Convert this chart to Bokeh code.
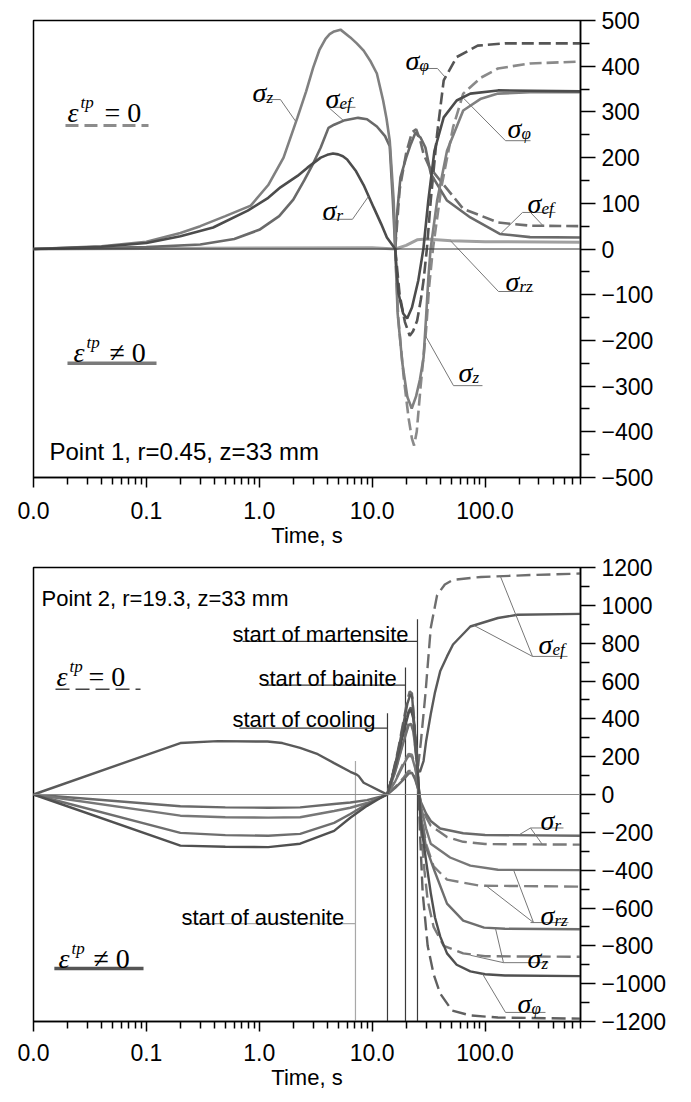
import math
from bokeh.plotting import figure
from bokeh.layouts import column
from bokeh.models import FixedTicker, Label, Span, Range1d, PrintfTickFormatter
from bokeh.embed import file_html
from bokeh.resources import INLINE

# ---------------- Point 1 (r=0.45, z=33 mm) ----------------
# solid: transformation plasticity on, dashed: transformation plasticity off
p1_sz_t = [0.01, 0.04, 0.1, 0.2, 0.3, 0.5, 0.84, 1.2, 1.64, 2.18, 2.6, 3.0, 3.4, 3.86, 4.2, 4.6, 5.24, 6.4, 7.3, 8.4,
           9.6, 11, 12.5, 13.4, 14.3, 15.5, 16, 16.8, 18.5, 20.5, 22.4, 24.5, 26.5, 28.5, 30, 31.5, 32.9, 37.6, 46,
           64, 92, 130, 250, 700]
p1_sz = [0, 6, 16, 35, 50, 72, 95, 140, 200, 288, 345, 397, 435, 460, 470, 476, 480, 463, 450, 434,
         412, 384, 325, 285, 237, 106, 0, -141, -250, -324, -349, -322, -285, -238, -150, -60, 0, 106, 215,
         303, 329, 340, 343, 343]

p1_sz_tp0_t = [16, 17, 19, 21, 22.5, 23.5, 24.8, 26.8, 30, 32, 34.5, 41, 52, 64, 92, 130, 250, 700]
p1_sz_tp0 = [0, -150, -280, -370, -415, -430, -400, -303, -178, -80, 0, 135, 266, 340, 375, 395, 406, 410]

# radial and hoop stresses coincide near the axis
p1_sphi_t = [0.01, 0.04, 0.1, 0.2, 0.39, 0.79, 1.2, 1.54, 2.18, 2.67, 3.5, 4.0, 4.5, 5.0, 5.5, 6.0, 7.2, 8.4, 10.3,
             12, 13.5, 16, 16.5, 17.1, 18.8, 20.4, 22.5, 25.6, 28.4, 31.4, 35.6, 43, 56, 74, 130, 700]
p1_sphi = [0, 5, 13, 28, 47, 84, 112, 135, 160, 178, 200, 206, 209, 207, 203, 196, 170, 140, 91,
           55, 25, 0, -50, -97, -141, -152, -128, -69, 0, 106, 215, 288, 325, 340, 347, 345]

p1_sphi_tp0_t = [16, 17.5, 19.5, 21.5, 23, 25, 27, 28.5, 30.5, 33, 37.6, 43, 56, 86, 150, 700]
p1_sphi_tp0 = [0, -100, -160, -190, -180, -157, -110, -69, 0, 106, 252, 369, 420, 445, 450, 450]

p1_sef_t = [0.01, 0.1, 0.3, 0.6, 1.0, 1.5, 2.0, 2.5, 3.0, 3.5, 4.1, 4.6, 5.6, 7.5, 9.0, 11, 13, 14.3, 15.2, 16,
            16.5, 17.8, 20, 22, 24.2, 25.5, 26.8, 29.6, 33, 46, 74, 135, 250, 700]
p1_sef = [0, 4, 10, 22, 42, 72, 108, 150, 187, 222, 265, 272, 281, 287, 284, 268, 247, 225, 110, 0,
          70, 157, 200, 230, 255, 248, 244, 222, 165, 106, 69, 33, 26, 25]

p1_sef_tp0_t = [16, 17.5, 20, 22.5, 24.5, 26.5, 28.5, 32, 40, 64, 130, 250, 700]
p1_sef_tp0 = [0, 130, 210, 255, 262, 240, 208, 180, 150, 88, 58, 51, 50]

p1_srz_t = [0.01, 1, 10, 16, 20, 25, 30, 50, 100, 700]
p1_srz = [0, 2, 3, 0, 8, 20, 22, 18, 16, 15]

# ---------------- Point 2 (r=19.3, z=33 mm) ----------------
p2_sef_t = [0.01, 0.2, 0.43, 1.18, 1.6, 2.3, 3.3, 4.6, 6.4, 7.3, 7.6, 8.4, 9.6, 11.8, 13.6, 15, 17, 19, 20.5, 21.8,
            22.6, 23.5, 24.5, 25.5, 26.5, 28.5, 30, 33, 36, 40, 46, 52, 74, 130, 194, 700]
p2_sef = [0, 272, 282, 280, 272, 246, 213, 166, 120, 105, 97, 62, 45, 18, 0, 90, 230, 380, 480, 530,
          515, 380, 220, 130, 120, 177, 280, 424, 540, 651, 730, 793, 888, 933, 950, 955]
p2_sef_tp0_t = [13.6, 15, 17, 19, 20.5, 21.5, 22.5, 23.5, 24.5, 25.5, 27, 29.6, 33, 37.6, 44, 52, 92, 250, 700]
p2_sef_tp0 = [0, 95, 240, 395, 500, 545, 535, 400, 240, 150, 280, 530, 880, 1055, 1110, 1135, 1150, 1160, 1168]

p2_sr_t = [0.01, 0.2, 0.5, 1.2, 2.3, 4.6, 6.4, 9, 11.8, 13.6, 16, 19, 21, 22.5, 24, 25.5, 27, 30, 33, 40, 64, 100, 700]
p2_sr = [0, -62, -68, -70, -68, -50, -42, -30, -12, 0, 35, 80, 110, 115, 80, 30, -40, -100, -140, -180, -205, -214, -218]
p2_sr_tp0_t = [13.6, 16, 19, 21, 22.5, 24, 25.5, 27, 30, 33, 46, 64, 100, 700]
p2_sr_tp0 = [0, 40, 90, 125, 125, 90, 30, -50, -120, -165, -225, -250, -262, -265]

p2_srz_t = [0.01, 0.2, 0.5, 1.2, 2.3, 4.6, 6.4, 9, 11.8, 13.6, 16, 19, 21, 22.5, 24, 25.5, 27, 30, 33, 49, 74, 130, 700]
p2_srz = [0, -112, -120, -122, -120, -87, -70, -45, -18, 0, 70, 160, 205, 200, 140, 60, -60, -180, -260, -333, -376, -398, -400]
p2_srz_tp0_t = [13.6, 16, 19, 21, 22.5, 24, 25.5, 27, 30, 35, 46, 90, 700]
p2_srz_tp0 = [0, 75, 170, 215, 210, 150, 60, -90, -260, -380, -450, -482, -487]

p2_sz_t = [0.01, 0.2, 0.5, 1.2, 2.3, 4.6, 6.4, 9, 11.8, 13.6, 16, 19, 21, 22, 23.2, 24.5, 25.5, 27, 30, 35.6, 46, 64, 98, 150, 700]
p2_sz = [0, -203, -215, -218, -208, -150, -103, -50, -15, 0, 120, 280, 365, 375, 330, 200, 80, -110, -280, -403, -577, -667, -704, -710, -712]
p2_sz_tp0_t = [13.6, 16, 19, 21, 22, 23.2, 24.5, 25.5, 27, 29, 31, 35, 43, 64, 100, 700]
p2_sz_tp0 = [0, 125, 290, 375, 385, 340, 210, 80, -180, -400, -560, -700, -800, -840, -855, -858]

p2_sphi_t = [0.01, 0.2, 0.5, 1.2, 2.3, 4.6, 6.4, 9, 11.8, 13.6, 16, 19, 21, 22, 23.2, 24.5, 25.5, 27, 30, 33, 36, 40, 46, 56, 74, 100, 150, 700]
p2_sphi = [0, -270, -276, -278, -260, -192, -123, -60, -18, 0, 150, 330, 430, 450, 400, 250, 100, -150, -350, -520, -650, -750, -840, -900, -935, -950, -957, -960]
p2_sphi_tp0_t = [13.6, 16, 19, 21, 22, 23.2, 24.5, 25.5, 26.5, 28, 31, 35, 40, 51, 74, 130, 700]
p2_sphi_tp0 = [0, 155, 340, 440, 460, 410, 260, 100, -200, -520, -800, -950, -1052, -1142, -1168, -1179, -1185]

# phase-event times (s) for Point 2
events = ["start of austenite", "start of cooling", "start of bainite", "start of martensite"]
event_t = [7.11, 13.66, 19.72, 25.19]

x_major = [0.01, 0.1, 1, 10, 100]
x_minor = [m * d for d in (0.01, 0.1, 1, 10) for m in range(2, 10)] + [200, 300, 400, 500, 600, 700]

SANS = "Liberation Sans"
SERIF = "Liberation Serif"
LEAD = "#777777"


def make_fig(height, top, bottom, yr, ystep, frame_h, x_standoff):
    p = figure(width=691, height=height, x_axis_type="log", y_axis_location="right",
               x_range=Range1d(0.01, 700), y_range=Range1d(*yr),
               output_backend="svg", toolbar_location=None,
               min_border_left=33, min_border_right=111, min_border_top=top, min_border_bottom=bottom)
    p.grid.visible = False
    p.background_fill_color = "white"
    p.border_fill_color = "white"
    p.outline_line_color = "black"
    p.outline_line_width = 1.5

    xa = p.xaxis[0]
    xa.ticker = FixedTicker(ticks=x_major, minor_ticks=x_minor)
    xa.formatter = PrintfTickFormatter(format="%.1f")
    xa.major_tick_in = 0
    xa.minor_tick_in = 0
    xa.major_tick_out = 10
    xa.minor_tick_out = 7
    xa.major_tick_line_width = 1.5
    xa.minor_tick_line_width = 1.5
    xa.axis_line_width = 1.5
    xa.major_label_text_font = SANS
    xa.major_label_text_font_size = "23px"
    xa.major_label_text_color = "black"
    xa.major_label_standoff = x_standoff
    xa.axis_label = "Time, s"
    xa.axis_label_text_font = SANS
    xa.axis_label_text_font_size = "22px"
    xa.axis_label_text_font_style = "normal"
    xa.axis_label_text_color = "black"
    xa.axis_label_standoff = 1

    ya = p.yaxis[0]
    ya.ticker = FixedTicker(ticks=list(range(yr[0], yr[1] + 1, ystep)),
                            minor_ticks=list(range(yr[0] + ystep // 2, yr[1], ystep)))
    ya.major_tick_in = 0
    ya.minor_tick_in = 0
    ya.major_tick_out = 15
    ya.minor_tick_out = 9
    ya.major_tick_line_width = 1.5
    ya.minor_tick_line_width = 1.5
    ya.axis_line_width = 1.5
    ya.major_label_text_font = SANS
    ya.major_label_text_font_size = "23px"
    ya.major_label_text_color = "black"
    ya.major_label_standoff = 6

    p.add_layout(Label(x=642, y=frame_h / 2, x_units="screen", y_units="screen", text="Stress, MPa",
                       angle=math.pi / 2, text_align="center", text_baseline="middle",
                       text_font=SANS, text_font_size="24px", text_color="black"))
    return p


def sigma(p, t, s, sub, size=28, sub_size=17, dx=14, dy=-5):
    p.add_layout(Label(x=t, y=s, text="σ", text_font=SERIF, text_font_style="italic",
                       text_font_size=f"{size}px", text_color="black", text_baseline="alphabetic"))
    p.add_layout(Label(x=t, y=s, x_offset=dx, y_offset=dy, text=sub, text_font=SERIF,
                       text_font_style="italic", text_font_size=f"{sub_size}px", text_color="black",
                       text_baseline="alphabetic"))


def eps(p, t, s, rel, dx_rel):
    p.add_layout(Label(x=t, y=s, text="ε", text_font=SERIF, text_font_style="italic",
                       text_font_size="28px", text_color="black", text_baseline="alphabetic"))
    p.add_layout(Label(x=t, y=s, x_offset=13, y_offset=10, text="tp", text_font=SERIF,
                       text_font_style="italic", text_font_size="17px", text_color="black",
                       text_baseline="alphabetic"))
    p.add_layout(Label(x=t, y=s, x_offset=dx_rel, text=rel, text_font=SERIF,
                       text_font_size="28px", text_color="black", text_baseline="alphabetic"))


def lead(p, ts, ss, color=LEAD, width=1.0):
    p.line(ts, ss, line_color=color, line_width=width)


# ================= top panel =================
p1 = make_fig(555, 20, 78, (-500, 500), 100, 457, 14)
p1.add_layout(Span(location=0, dimension="width", line_color="#333333", line_width=1))

W = 2.6
p1.line(p1_srz_t, p1_srz, line_color="#a0a0a0", line_width=3)
p1.line(p1_sef_tp0_t, p1_sef_tp0, line_color="#6e6e6e", line_width=W, line_dash="12 5")
p1.line(p1_sz_tp0_t, p1_sz_tp0, line_color="#8a8a8a", line_width=W, line_dash="12 5")
p1.line(p1_sphi_tp0_t, p1_sphi_tp0, line_color="#555555", line_width=W, line_dash="12 5")
p1.line(p1_sef_t, p1_sef, line_color="#6a6a6a", line_width=W)
p1.line(p1_sz_t, p1_sz, line_color="#808080", line_width=W)
p1.line(p1_sphi_t, p1_sphi, line_color="#4c4c4c", line_width=W)

# legend keys
eps(p1, 0.0200, 298, "= 0", 37)
p1.line([0.0192, 0.1044], [270, 270], line_color="#8c8c8c", line_width=3, line_dash="13 6")
eps(p1, 0.0226, -226, "≠ 0", 36)
p1.line([0.0200, 0.1229], [-250, -250], line_color="#7a7a7a", line_width=3.5)

p1.add_layout(Label(x=0.01386, y=-443, text="Point 1, r=0.45, z=33 mm", text_font=SANS,
                    text_font_size="24px", text_color="black", text_baseline="alphabetic"))

# curve labels with leaders
sigma(p1, 0.87, 342, "z")
lead(p1, [0.888, 1.54, 2.09], [327, 327, 280])
sigma(p1, 3.86, 329, "ef")
lead(p1, [7.11, 4.10, 5.57], [310, 310, 281])
sigma(p1, 3.63, 84, "r")
lead(p1, [3.63, 6.69, 9.27], [65, 65, 115])
sigma(p1, 19.7, 412, "φ")
lead(p1, [20.55, 37.87, 44.6], [395, 395, 375])
sigma(p1, 157.9, 264, "φ")
lead(p1, [252.5, 151.6, 64.4], [237, 237, 330])
sigma(p1, 237.5, 100, "ef")
lead(p1, [420, 214.5, 136.9], [80, 80, 33])
lead(p1, [252.5, 329], [80, 50])
sigma(p1, 151.6, -71, "rz")
lead(p1, [268.5, 131.4, 49.4], [-93, -93, 18])
sigma(p1, 58.1, -270, "z")
lead(p1, [94.8, 52.5, 29.66], [-299, -299, -190])

# ================= bottom panel =================
p2 = make_fig(547, 12, 81, (-1200, 1200), 200, 454, 12)
p2.add_layout(Span(location=0, dimension="width", line_color="#8a8a8a", line_width=1))

# phase-event markers
ev_top = [177, 430, 672, 926]
ev_label_y = [-651, 398, 615, 846]
ev_label_t = [0.2046, 0.579, 0.984, 0.579]
ev_under_y = [-683, 351, 578, 810]
ev_under_t0 = [0.222, 0.668, 1.135, 0.71]
ev_color = ["#a8a8a8", "#3a3a3a", "#3a3a3a", "#3a3a3a"]
for name, te, top, lt, ly, ut, uy, c in zip(events, event_t, ev_top, ev_label_t, ev_label_y,
                                             ev_under_t0, ev_under_y, ev_color):
    p2.line([te, te], [top, -1200], line_color=c, line_width=1.2)
    p2.line([ut, te], [uy, uy], line_color=c, line_width=1.2)
    p2.add_layout(Label(x=lt, y=ly, text=name, text_font=SANS, text_font_size="22px",
                        text_color="black", text_baseline="alphabetic"))

W2 = 2.4
D2 = "14 6"
p2.line(p2_sr_tp0_t, p2_sr_tp0, line_color="#7a7a7a", line_width=W2, line_dash=D2)
p2.line(p2_srz_tp0_t, p2_srz_tp0, line_color="#808080", line_width=W2, line_dash=D2)
p2.line(p2_sz_tp0_t, p2_sz_tp0, line_color="#7a7a7a", line_width=W2, line_dash=D2)
p2.line(p2_sphi_tp0_t, p2_sphi_tp0, line_color="#606060", line_width=W2, line_dash=D2)
p2.line(p2_sef_tp0_t, p2_sef_tp0, line_color="#6e6e6e", line_width=W2, line_dash=D2)
p2.line(p2_sr_t, p2_sr, line_color="#6a6a6a", line_width=W2)
p2.line(p2_srz_t, p2_srz, line_color="#777777", line_width=W2)
p2.line(p2_sz_t, p2_sz, line_color="#6e6e6e", line_width=W2)
p2.line(p2_sphi_t, p2_sphi, line_color="#505050", line_width=W2)
p2.line(p2_sef_t, p2_sef, line_color="#5a5a5a", line_width=W2)

eps(p2, 0.0160, 625, "= 0", 32)
p2.line([0.01567, 0.0887], [556, 556], line_color="#444444", line_width=1.5, line_dash="14 6")
eps(p2, 0.01665, -868, "≠ 0", 35)
p2.line([0.0153, 0.0943], [-920, -920], line_color="#555555", line_width=3.5)

p2.add_layout(Label(x=0.01177, y=1036, text="Point 2, r=19.3, z=33 mm", text_font=SANS,
                    text_font_size="22px", text_color="black", text_baseline="alphabetic"))

sigma(p2, 297, 794, "ef")
lead(p2, [537, 263, 78.9], [730, 730, 895])
lead(p2, [263, 136.9], [730, 1152])
sigma(p2, 309.5, -140, "r")
lead(p2, [494.7, 252.5, 197.6], [-177, -177, -215])
lead(p2, [252.5, 322.5], [-177, -265])
sigma(p2, 309.5, -640, "rz")
lead(p2, [548, 252.5], [-677, -677])
lead(p2, [268.5, 178.5], [-677, -398])
lead(p2, [268.5, 100.8], [-677, -480])
sigma(p2, 237.5, -868, "z")
lead(p2, [364, 145.5, 123.6], [-889, -889, -708])
lead(p2, [145.5, 74.3], [-889, -850])
sigma(p2, 193.6, -1105, "φ")
lead(p2, [342.8, 151.6, 94.8], [-1152, -1152, -948])

layout = column(p1, p2)
open("out.html", "w").write(file_html(layout, INLINE))
